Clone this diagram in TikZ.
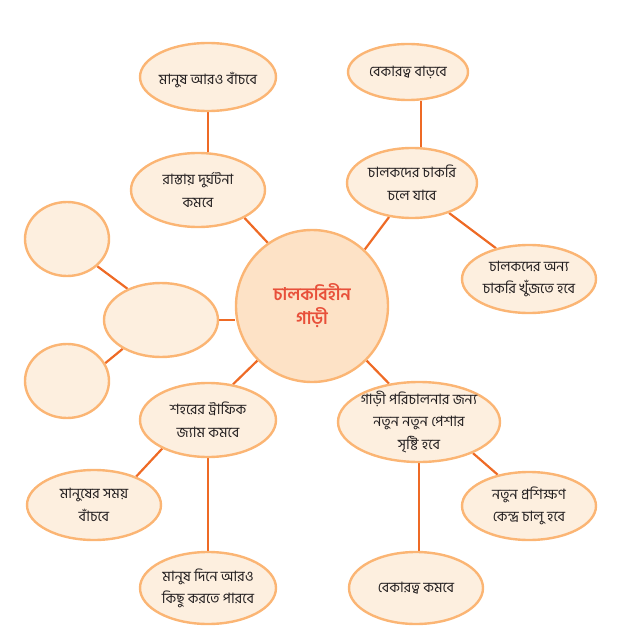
\documentclass[tikz,border=0pt]{standalone}
\usepackage{fontspec}
\newfontfamily\bn[Script=Bengali]{Hind Siliguri}
\usetikzlibrary{shapes.geometric,backgrounds}
\definecolor{bord}{HTML}{FBB574}
\definecolor{bfill}{HTML}{FDEFDF}
\definecolor{cfill}{HTML}{FDE2C6}
\definecolor{link}{HTML}{EE6A25}
\definecolor{ctext}{HTML}{E8503A}
\definecolor{ink}{HTML}{231F20}
\begin{document}
\begin{tikzpicture}[x=1pt,y=-1pt,
  bub/.style 2 args={ellipse, draw=bord, fill=bfill, line width=2.4pt,
    minimum width=#1, minimum height=#2, inner sep=0pt},
  txt/.style={align=center, text=ink, font=\bn\fontsize{14.3}{22.5}\selectfont, inner sep=0pt},
  conn/.style={draw=link, line width=2.2pt}]
\useasboundingbox (0,0) rectangle (619,631);
% centre
\node[circle, draw=bord, fill=cfill, line width=2.4pt, minimum size=152pt, inner sep=0pt] (C) at (312,306) {};
\node[txt, text=ctext, font=\bn\bfseries\fontsize{17.5}{24}\selectfont] (Ct) at (C) {চালকবিহীন\\গাড়ী};
% upper left branch
\node[bub={136pt}{68pt}] (e1) at (208,77) {};
\node[txt] (t1) at ([yshift=-3pt]e1) {মানুষ আরও বাঁচবে};
\node[bub={134pt}{74pt}] (e2) at (198,190) {};
\node[txt] (t2) at (e2) {রাস্তায় দুর্ঘটনা\\কমবে};
% upper right branch
\node[bub={120pt}{56pt}] (e3) at (408,72) {};
\node[txt] (t3) at (e3) {বেকারত্ব বাড়বে};
\node[bub={130pt}{70pt}] (e4) at (412,183) {};
\node[txt] (t4) at (e4) {চালকদের চাকরি\\চলে যাবে};
\node[bub={134pt}{68pt}] (e5) at (529,279) {};
\node[txt] (t5) at (e5) {চালকদের অন্য\\চাকরি খুঁজতে হবে};
% left empty branch
\node[bub={114pt}{74pt}] (L) at (161,320) {};
\node[bub={84pt}{74pt}] (TL) at (67,239) {};
\node[bub={84pt}{74pt}] (BL) at (67,381) {};
% lower left branch
\node[bub={136pt}{74pt}] (e6) at (208,420) {};
\node[txt] (t6) at (e6) {শহরের ট্রাফিক\\জ্যাম কমবে};
\node[bub={134pt}{70pt}] (e8) at (94,505) {};
\node[txt] (t8) at (e8) {মানুষের সময়\\বাঁচবে};
\node[bub={136pt}{72pt}] (e10) at (208,588) {};
\node[txt] (t10) at (e10) {মানুষ দিনে আরও\\কিছু করতে পারবে};
% lower right branch
\node[bub={162pt}{80pt}] (e7) at (419,422) {};
\node[txt] (t7) at (e7) {গাড়ী পরিচালনার জন্য\\নতুন নতুন পেশার\\সৃষ্টি হবে};
\node[bub={134pt}{68pt}] (e9) at (529,506) {};
\node[txt] (t9) at (e9) {নতুন প্রশিক্ষণ\\কেন্দ্র চালু হবে};
\node[bub={134pt}{72pt}] (e11) at (416,588) {};
\node[txt] (t11) at (e11) {বেকারত্ব কমবে};
% connectors
\begin{scope}[on background layer]
\draw[conn] (e1.south) -- (e1.south |- e2.north);
\draw[conn] (e2.-31) -- (C.125);
\draw[conn] (e3.-66) -- (e3.-66 |- e4.north);
\draw[conn] (C.47) -- (e4.-124);
\draw[conn] (e4.-39) -- (e5.137);
\draw[conn] (C.west |- L.east) -- (L.east);
\draw[conn] (TL.-42) -- (L.137);
\draw[conn] (BL.25) -- (L.-143);
\draw[conn] (C.-135) -- (e6.55);
\draw[conn] (e6.-148) -- (e8.34);
\draw[conn] (e6.south) -- (e10.north);
\draw[conn] (C.-45) -- (e7.128);
\draw[conn] (e7.-30) -- (e9.135);
\draw[conn] (e7.south) -- (e7.south |- e11.north);
\end{scope}
\end{tikzpicture}
\end{document}
